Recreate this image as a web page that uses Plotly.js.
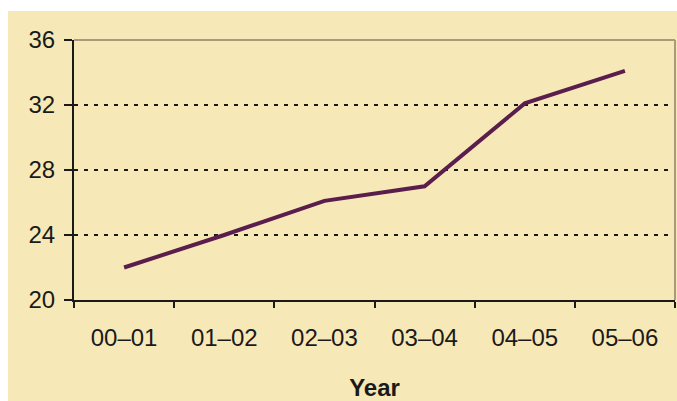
<!DOCTYPE html>
<html>
<head>
<meta charset="utf-8">
<script src="https://cdn.plot.ly/plotly-3.0.1.min.js"></script>
<style>
  html, body { margin: 0; padding: 0; background: #ffffff; width: 677px; height: 401px; overflow: hidden; }
  #chart { position: absolute; left: 8px; top: 11px; width: 669px; height: 390px; }
</style>
</head>
<body>
<div id="chart"></div>
<script>
const years = ["00–01", "01–02", "02–03", "03–04", "04–05", "05–06"];
const values = [22.0, 24.0, 26.1, 27.0, 32.1, 34.1];
const yTicks = [20, 24, 28, 32, 36];
const xTitle = "Year";

const bg = "#f7e8b8";
const trace = {
  type: "scatter",
  mode: "lines",
  x: years,
  y: values,
  line: { color: "#5a1d4c", width: 4 },
  hoverinfo: "x+y"
};

const layout = {
  width: 669,
  height: 390,
  margin: { l: 66, r: 2, t: 29, b: 101 },
  paper_bgcolor: bg,
  plot_bgcolor: bg,
  showlegend: false,
  font: { family: "Liberation Sans, Arial, sans-serif", color: "#1a1a1a" },
  xaxis: {
    type: "category",
    range: [-0.5, 5.5],
    showline: true,
    linecolor: "#1a1a1a",
    linewidth: 2,
    showgrid: false,
    ticks: "outside",
    tickson: "boundaries",
    ticklen: 6,
    tickwidth: 2,
    tickcolor: "#1a1a1a",
    ticklabelstandoff: 15,
    tickfont: { size: 24, color: "#1a1a1a" },
    title: { text: "<b>" + xTitle + "</b>", font: { size: 24, color: "#1a1a1a" }, standoff: 30 },
    fixedrange: true
  },
  yaxis: {
    range: [20, 36],
    tickvals: yTicks,
    ticktext: yTicks.map(String),
    showline: true,
    linecolor: "#1a1a1a",
    linewidth: 2,
    showgrid: true,
    gridcolor: "#1a1a1a",
    gridwidth: 2,
    griddash: "4px,6px",
    zeroline: false,
    ticks: "outside",
    ticklen: 8,
    tickwidth: 2,
    tickcolor: "#1a1a1a",
    ticklabelstandoff: 4,
    tickfont: { size: 24, color: "#1a1a1a" },
    fixedrange: true
  },
  shapes: [
    {
      type: "line", xref: "paper", yref: "paper",
      x0: 0, x1: 1, y0: 1, y1: 1,
      line: { color: "#a89a7a", width: 2 },
      layer: "above"
    },
    {
      type: "line", xref: "paper", yref: "paper",
      x0: 1, x1: 1, y0: 0, y1: 1,
      line: { color: "#a89a7a", width: 2 },
      layer: "above"
    }
  ]
};

Plotly.newPlot("chart", [trace], layout, { displayModeBar: false, staticPlot: true });
</script>
</body>
</html>
